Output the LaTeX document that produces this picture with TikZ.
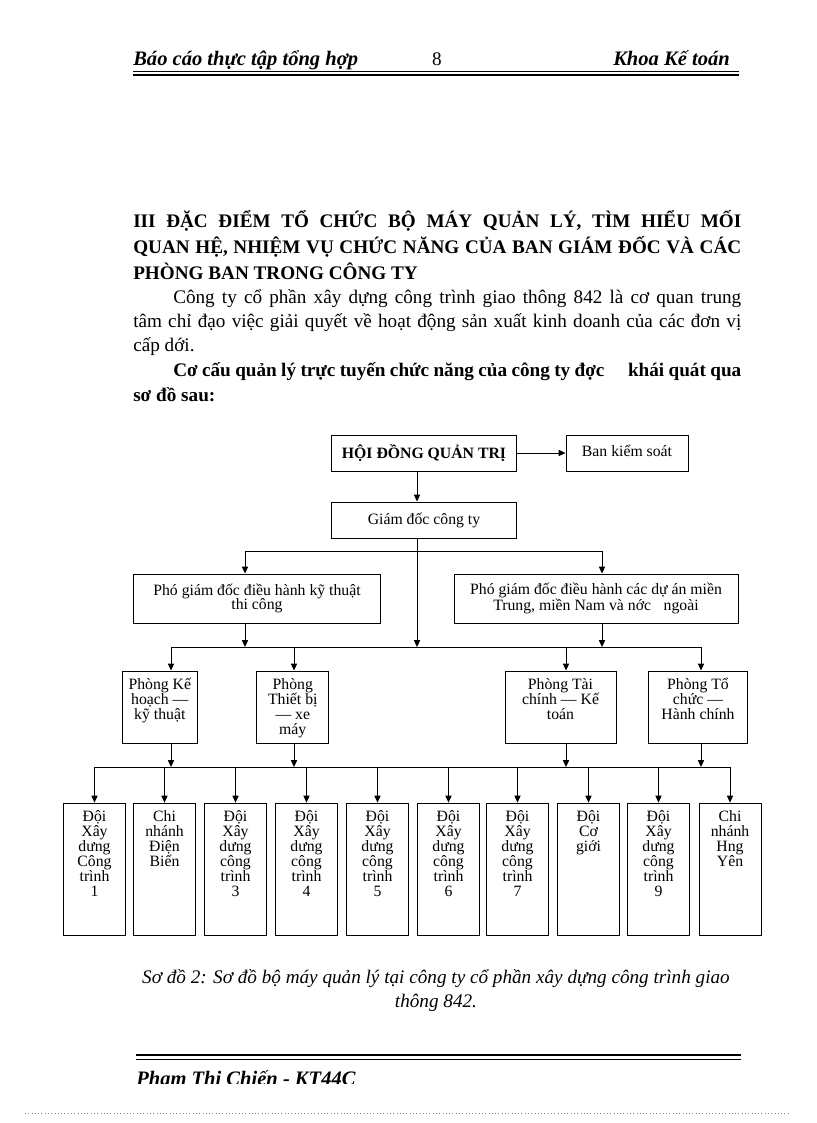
\documentclass[tikz,border=0pt]{standalone}
\usepackage{fontspec}
\setmainfont{Liberation Serif}
\usetikzlibrary{arrows.meta,positioning}

\newdimen\unitpx
\unitpx=0.73pt  % 1 px of the page = 0.73pt
% text block hung from the top of a fixed box
\newcommand\colbox[3]{\parbox[c][#2\unitpx][t]{#1\unitpx}{\centering
  \lineskiplimit=-20pt\rule{0pt}{13.5pt}#3}}

\begin{document}
\begin{tikzpicture}[
    x=0.73pt, y=-0.73pt,
    box/.style={draw, line width=0.7pt, inner sep=0pt, align=center,
                font=\fontsize{11.5}{10.5}\selectfont},
    col/.style={draw, line width=0.7pt, inner sep=0pt,
                font=\fontsize{11.5}{11}\selectfont},
    boxsize/.style 2 args={minimum width=#1*0.73pt, minimum height=#2*0.73pt},
    wire/.style={line width=0.6pt},
    arr/.style={wire, -{Triangle[length=5pt,width=4.5pt]}},
    txt/.style={inner sep=0pt, font=\fontsize{14}{17}\selectfont},
    hand/.style={txt, font=\bfseries\itshape\fontsize{15}{18}\selectfont}
]
\useasboundingbox (0,0) rectangle (816,1123);

% Page header (y grows downwards, 1 unit = 1 px)
\node[hand, anchor=base west] (head-l) at (133,66) {Báo cáo thực tập tổng hợp};
\node[txt, anchor=base] (head-n) at (437,66) {8};
\node[hand, anchor=base east] (head-r) at (730,66) {Khoa Kế toán};
\draw[line width=0.5pt] (133,71.5) -- (739,71.5);
\draw[line width=1.6pt] (133,75) -- (739,75);

% Section title, 3 lines
\node[txt, anchor=base west, font=\bfseries\fontsize{14}{17}\selectfont] (ttl1) at (133,227)
  {\makebox[608\unitpx][s]{III ĐẶC ĐIỂM TỔ CHỨC BỘ MÁY QUẢN LÝ, TÌM HIỂU MỐI}};
\node[txt, anchor=base west, font=\bfseries\fontsize{14}{17}\selectfont] (ttl2) at (133,253)
  {\makebox[608\unitpx][s]{QUAN HỆ, NHIỆM VỤ CHỨC NĂNG CỦA BAN GIÁM ĐỐC VÀ CÁC}};
\node[txt, anchor=base west, font=\bfseries\fontsize{14}{17}\selectfont] (ttl3) at (133,279)
  {PHÒNG BAN TRONG CÔNG TY};

% Paragraph
\node[txt, anchor=base west] (par1) at (173,303)
  {\makebox[568\unitpx][s]{Công ty cổ phần xây dựng công trình giao thông 842 là cơ quan trung}};
\node[txt, anchor=base west] (par2) at (133,327)
  {\makebox[608\unitpx][s]{tâm chỉ đạo việc giải quyết về hoạt động sản xuất kinh doanh của các đơn vị}};
\node[txt, anchor=base west] (par3) at (133,351) {cấp dới.};
\node[txt, anchor=base west, font=\bfseries\fontsize{14}{17}\selectfont] (lead1) at (173,376)
  {\makebox[568\unitpx][s]{Cơ cấu quản lý trực tuyến chức năng của công ty đợc\hspace{1em} khái quát qua}};
\node[txt, anchor=base west, font=\bfseries\fontsize{14}{17}\selectfont] (lead2) at (133,401) {sơ đồ sau:};

% Level 1: board and control
\node[box, boxsize={185}{36}, font=\bfseries\fontsize{11.5}{11}\selectfont] (hdqt) at (424,453) {HỘI ĐỒNG QUẢN TRỊ};
\node[box, boxsize={122}{36}] (bks) at (627,453) {\raisebox{3pt}{Ban kiểm soát}};
\node[box, boxsize={185}{36}] (gd) at (424,520) {Giám đốc công ty};

% Level 2: deputies
\node[box, boxsize={247}{49}] (pgd1) at (257,598.5) {Phó giám đốc điều hành kỹ thuật\\thi công};
\node[box, boxsize={284}{49}] (pgd2) at (596,598.5) {Phó giám đốc điều hành các dự án miền\\Trung, miền Nam và nớc\hspace{0.8em}ngoài};

% Level 3: departments (width, centre)
\node[col] (pkh)   at (159.8,707) {\colbox{75}{72}{Phòng Kế\\hoạch —\\kỹ thuật}};
\node[col] (ptb)   at (292.8,707) {\colbox{72}{72}{Phòng\\Thiết bị\\— xe\\máy}};
\node[col] (ptc)   at (560.5,707) {\colbox{111}{72}{Phòng Tài\\chính — Kế\\toán}};
\node[col] (ptchc) at (698,707)   {\colbox{99}{72}{Phòng Tổ\\chức —\\Hành chính}};

% Level 4: teams and branches
\foreach \i/\cx/\lbl in {
    1/94.5/{Đội\\Xây\\dưng\\Công\\trình\\1},
    2/164.5/{Chi\\nhánh\\Điện\\Biển},
    3/235.5/{Đội\\Xây\\dưng\\công\\trình\\3},
    4/306.5/{Đội\\Xây\\dưng\\công\\trình\\4},
    5/377.5/{Đội\\Xây\\dưng\\công\\trình\\5},
    6/448.5/{Đội\\Xây\\dưng\\công\\trình\\6},
    7/517.5/{Đội\\Xây\\dưng\\công\\trình\\7},
    8/588.5/{Đội\\Cơ\\giới},
    9/658.5/{Đội\\Xây\\dưng\\công\\trình\\9},
    10/730/{Chi\\nhánh\\Hng\\Yên}} {
  \node[col] (t\i) at (\cx,869.3) {\colbox{62}{132.5}{\lbl}};
}

% Bus lines and columns of the arrows
\coordinate (busA) at (417,551);
\coordinate (busB) at (417,647);
\coordinate (busC) at (417,767);
\coordinate (xl) at (245,0);
\coordinate (xr) at (602,0);
\coordinate (xpkh) at (171,0);
\coordinate (xptb) at (294,0);
\coordinate (xptc) at (566,0);
\coordinate (xptchc) at (701,0);

\draw[arr] (hdqt) -- (bks);
\draw[arr] (hdqt.south -| busA) -- (gd.north -| busA);
\draw[arr] (gd.south -| busA) -- (busB);
\draw[arr] (busA) -| (pgd1.north -| xl);
\draw[arr] (busA) -| (pgd2.north -| xr);
\draw[arr] (pgd1.south -| xl) -- (busB -| xl);
\draw[arr] (pgd2.south -| xr) -- (busB -| xr);

\draw[wire] (busB -| xpkh) -- (busB -| xptchc);
\foreach \d in {pkh,ptb,ptc,ptchc} {
  \draw[arr] (busB -| x\d) -- (\d.north -| x\d);
  \draw[arr] (\d.south -| x\d) -- (busC -| x\d);
}

\draw[wire] (busC -| t1) -- (busC -| t10);
\foreach \i in {1,...,10}
  \draw[arr] (busC -| t\i) -- (t\i.north);

% Caption
\node[txt, anchor=base, font=\itshape\fontsize{14}{17}\selectfont] (cap1) at (436,983)
  {Sơ đồ 2: Sơ đồ bộ máy quản lý tại công ty cổ phần xây dựng công trình giao};
\node[txt, anchor=base, font=\itshape\fontsize{14}{17}\selectfont] (cap2) at (436,1007) {thông 842.};

% Page footer, cut off at the bottom of the scan
\draw[line width=1.6pt] (136,1055) -- (741,1055);
\draw[line width=0.5pt] (136,1059) -- (741,1059);
\begin{scope}
  \clip (0,0) rectangle (816,1083);
  \node[hand, anchor=base west] (foot) at (136,1085) {Phạm Thị Chiến - KT44C};
\end{scope}
\draw[gray, dotted] (25,1113) -- (790,1113);
\end{tikzpicture}
\end{document}
